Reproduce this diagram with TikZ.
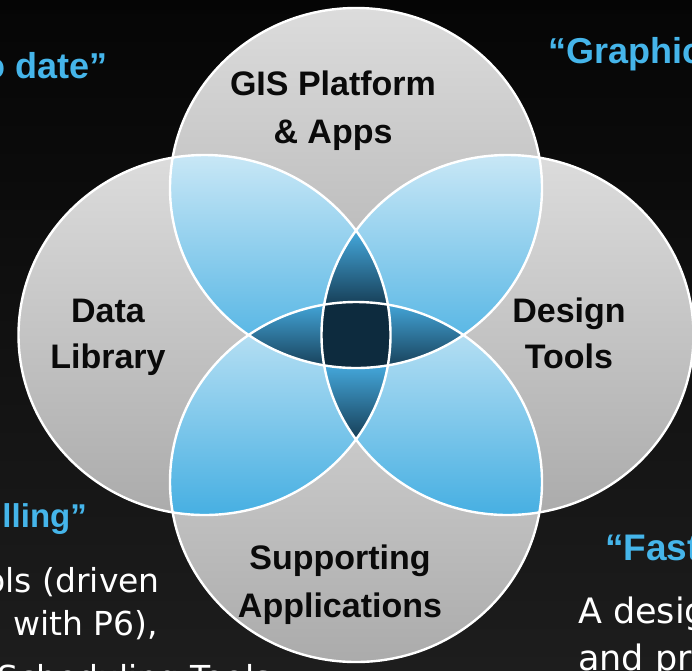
\documentclass[tikz,border=0pt]{standalone}
\usepackage{fontspec}
\setmainfont{Liberation Sans}
\newfontfamily\bodyfont{DejaVu Sans}
\definecolor{bgtop}{HTML}{050505}
\definecolor{bgbot}{HTML}{1D1D1D}
\definecolor{graytop}{HTML}{DCDCDC}
\definecolor{graybot}{HTML}{ABABAB}
\definecolor{lenstop}{HTML}{C8E7F6}
\definecolor{lensbot}{HTML}{46AFE2}
\definecolor{tritop}{HTML}{45A9DD}
\definecolor{tribot}{HTML}{163D55}
\definecolor{core}{HTML}{0D2B3E}
\definecolor{headblue}{HTML}{45B5EA}
\definecolor{labelink}{HTML}{0A0A0A}
\def\RX{186pt}
\def\RY{180pt}
\tikzset{
  lbl/.style={anchor=base, inner sep=0pt, text=labelink, font=\fontsize{34}{40}\selectfont\bfseries},
  headE/.style={anchor=base east, inner sep=0pt, text=headblue},
  headW/.style={anchor=base west, inner sep=0pt, text=headblue},
  bodyE/.style={anchor=base east, inner sep=0pt, text=white},
  bodyW/.style={anchor=base west, inner sep=0pt, text=white},
  ring/.style={draw=white, line width=2.4pt},
}
\begin{document}
\begin{tikzpicture}[x=1pt, y=-1pt]
\useasboundingbox (0,0) rectangle (692,670);
\shade[top color=bgtop, bottom color=bgbot] (0,0) rectangle (692,670);

\coordinate (cT) at (356,188);
\coordinate (cB) at (356,482);
\coordinate (cL) at (204.5,335);
\coordinate (cR) at (507.5,335);

% gray circles
\shade[top color=graytop, bottom color=graybot] (cT) ellipse [x radius=\RX, y radius=\RY];
\shade[top color=graytop, bottom color=graybot] (cB) ellipse [x radius=\RX, y radius=\RY];
\shade[top color=graytop, bottom color=graybot] (cL) ellipse [x radius=\RX, y radius=\RY];
\shade[top color=graytop, bottom color=graybot] (cR) ellipse [x radius=\RX, y radius=\RY];

% pairwise lenses
\begin{scope}
\clip (cT) ellipse [x radius=\RX, y radius=\RY];
\clip (cL) ellipse [x radius=\RX, y radius=\RY];
\shade[top color=lenstop, bottom color=lensbot] (150,155) rectangle (410,368);
\end{scope}
\begin{scope}
\clip (cT) ellipse [x radius=\RX, y radius=\RY];
\clip (cR) ellipse [x radius=\RX, y radius=\RY];
\shade[top color=lenstop, bottom color=lensbot] (300,155) rectangle (560,368);
\end{scope}
\begin{scope}
\clip (cB) ellipse [x radius=\RX, y radius=\RY];
\clip (cL) ellipse [x radius=\RX, y radius=\RY];
\shade[top color=lenstop, bottom color=lensbot] (150,302) rectangle (410,515);
\end{scope}
\begin{scope}
\clip (cB) ellipse [x radius=\RX, y radius=\RY];
\clip (cR) ellipse [x radius=\RX, y radius=\RY];
\shade[top color=lenstop, bottom color=lensbot] (300,302) rectangle (560,515);
\end{scope}

% triple regions
\begin{scope}
\clip (cL) ellipse [x radius=\RX, y radius=\RY];
\clip (cR) ellipse [x radius=\RX, y radius=\RY];
\clip (cT) ellipse [x radius=\RX, y radius=\RY];
\shade[top color=tritop, bottom color=tribot] (305,230) rectangle (407,306);
\end{scope}
\begin{scope}
\clip (cL) ellipse [x radius=\RX, y radius=\RY];
\clip (cR) ellipse [x radius=\RX, y radius=\RY];
\clip (cB) ellipse [x radius=\RX, y radius=\RY];
\shade[top color=tritop, bottom color=tribot] (305,364) rectangle (407,440);
\end{scope}
\begin{scope}
\clip (cT) ellipse [x radius=\RX, y radius=\RY];
\clip (cB) ellipse [x radius=\RX, y radius=\RY];
\clip (cL) ellipse [x radius=\RX, y radius=\RY];
\shade[top color=tritop, bottom color=tribot] (244,301) rectangle (332,369);
\end{scope}
\begin{scope}
\clip (cT) ellipse [x radius=\RX, y radius=\RY];
\clip (cB) ellipse [x radius=\RX, y radius=\RY];
\clip (cR) ellipse [x radius=\RX, y radius=\RY];
\shade[top color=tritop, bottom color=tribot] (380,301) rectangle (468,369);
\end{scope}

% core
\begin{scope}
\clip (cT) ellipse [x radius=\RX, y radius=\RY];
\clip (cB) ellipse [x radius=\RX, y radius=\RY];
\clip (cL) ellipse [x radius=\RX, y radius=\RY];
\clip (cR) ellipse [x radius=\RX, y radius=\RY];
\fill[core] (300,280) rectangle (420,390);
\end{scope}

% white outlines
\draw[ring] (cT) ellipse [x radius=\RX, y radius=\RY];
\draw[ring] (cB) ellipse [x radius=\RX, y radius=\RY];
\draw[ring] (cL) ellipse [x radius=\RX, y radius=\RY];
\draw[ring] (cR) ellipse [x radius=\RX, y radius=\RY];

% circle labels
\node[lbl] (gisA) at (333,95) {GIS Platform};
\node[lbl] (gisB) at (333,143) {\& Apps};
\node[lbl] (dataA) at (108,322) {Data};
\node[lbl] (dataB) at (108,368) {Library};
\node[lbl] (desA) at (569,322) {Design};
\node[lbl] (desB) at (569,368) {Tools};
\node[lbl] (supA) at (340,569) {Supporting};
\node[lbl] (supB) at (340,617) {Applications};

% side texts (cropped by the page edge, as in the reference)
\node[headE, font=\fontsize{36}{42}\selectfont\bfseries] (hTL) at (108,78) {o date”};
\node[headW, font=\fontsize{36}{42}\selectfont\bfseries] (hTR) at (548,63) {“Graphic};
\node[headE, font=\fontsize{33}{40}\selectfont\bfseries] (hBL) at (87,527) {lling”};
\node[headW, font=\fontsize{37}{44}\selectfont\bfseries] (hBR) at (605,560) {“Fast};
\node[bodyE, font=\bodyfont\fontsize{33}{40}\selectfont] (tBL1) at (160,592) {ols (driven};
\node[bodyE, font=\bodyfont\fontsize{33}{40}\selectfont] (tBL2) at (158,635) {with P6),};
\node[bodyW, font=\bodyfont\fontsize{33}{40}\selectfont] (tBL3) at (-3,689) {Scheduling Tools};
\node[bodyW, font=\bodyfont\fontsize{35}{42}\selectfont] (tBR1) at (578,623) {A desig};
\node[bodyW, font=\bodyfont\fontsize{35}{42}\selectfont] (tBR2) at (578,670) {and pro};
\end{tikzpicture}
\end{document}
